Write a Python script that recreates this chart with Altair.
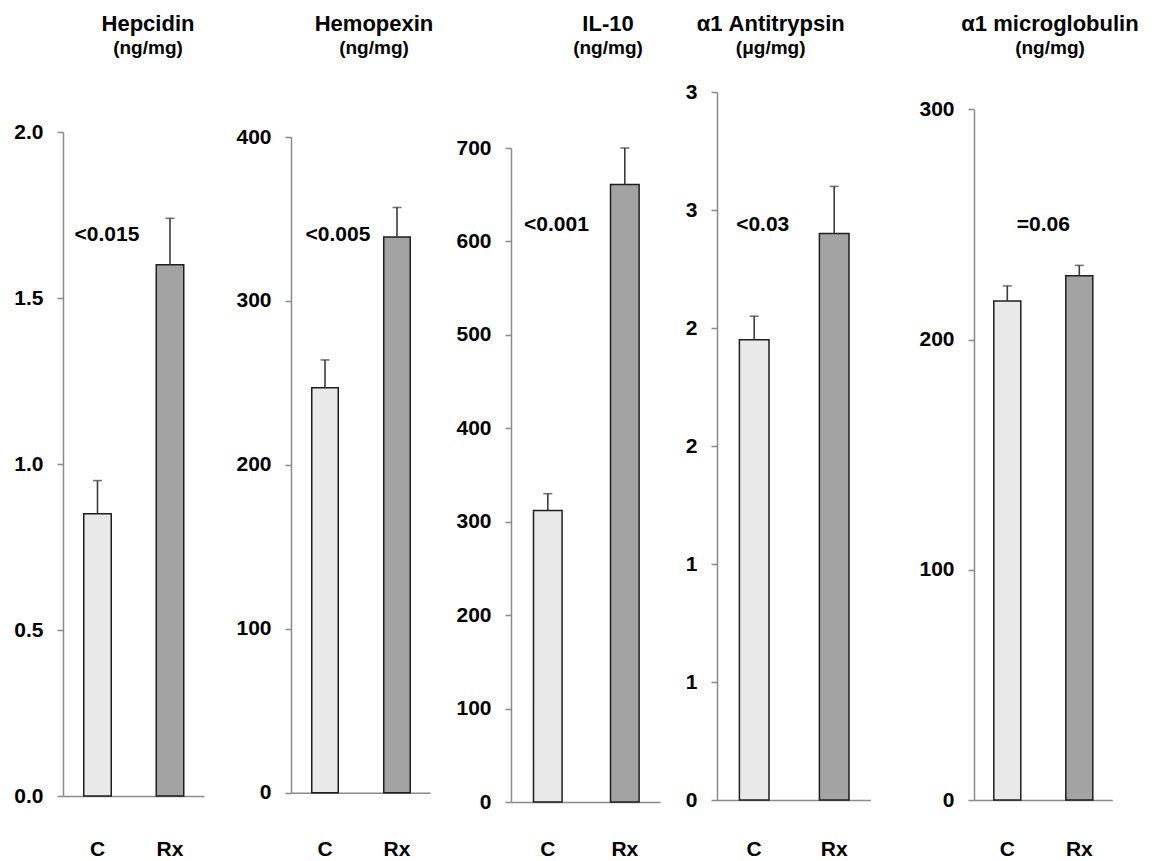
import altair as alt
import pandas as pd

# ---------------- data ----------------
categories = ["C", "Rx"]
titles = ["Hepcidin", "Hemopexin", "IL-10", "α1 Antitrypsin", "α1 microglobulin"]
units = ["(ng/mg)", "(ng/mg)", "(ng/mg)", "(μg/mg)", "(ng/mg)"]

hepcidin_mean = [0.85, 1.60]
hepcidin_se = [0.10, 0.14]
hemopexin_mean = [247, 339]
hemopexin_se = [17, 18]
il10_mean = [312, 661]
il10_se = [18, 39]
a1at_mean = [1.95, 2.40]
a1at_se = [0.10, 0.20]
a1mg_mean = [216.7, 227.7]
a1mg_se = [6.6, 4.5]

p_labels = ["<0.015", "<0.005", "<0.001", "<0.03", "=0.06"]

y_max = [2, 400, 700, 3, 300]
tick_values = [
    [0, 0.5, 1.0, 1.5, 2.0],
    [0, 100, 200, 300, 400],
    [0, 100, 200, 300, 400, 500, 600, 700],
    [0, 0.5, 1, 1.5, 2, 2.5, 3],
    [0, 100, 200, 300],
]
tick_formats = [".1f", "d", "d", ".0f", "d"]

means = [hepcidin_mean, hemopexin_mean, il10_mean, a1at_mean, a1mg_mean]
ses = [hepcidin_se, hemopexin_se, il10_se, a1at_se, a1mg_se]

# ---------------- layout (pixels in page) ----------------
PLOT_TOP = 70
axis_x = [66, 294, 514, 719.3, 976]
zero_y = [795, 791.7, 801, 799, 799]
max_y = [131, 136, 147, 91, 108.3]
baseline_w = [141, 139, 149, 153.4, 138.3]
centers = [(34.5, 107), (34, 106), (36.8, 113.8), (37.2, 117.2), (33.3, 105.3)]
band_w = [27.5, 26.5, 28.6, 29.6, 27]
title_cx = [151, 377, 611, 773, 1052]
ann_dx = [9.5, 13, 8.7, 8.5, 36]
ann_base_px = [240, 240, 230, 230, 230]
LABEL_TOP = 840

FONT = "Liberation Sans"
bar_colors = ["#e9e9e9", "#a3a3a3"]
AX_GRAY = "#8a8a8a"


def panel(i):
    df = pd.DataFrame({
        "group": categories,
        "mean": means[i],
        "upper": [m + e for m, e in zip(means[i], ses[i])],
    })
    h = zero_y[i] - PLOT_TOP
    y_range = [h, max_y[i] - PLOT_TOP]
    step = centers[i][1] - centers[i][0]
    bw = band_w[i]
    p_in = 1 - bw / step
    W = baseline_w[i]
    p_out = (W / step - 2 + p_in) / 2
    align = (centers[i][0] - bw / 2) / (W - step * (2 - p_in))
    width = (axis_x[i + 1] - axis_x[i]) if i < 4 else W + 20

    xscale = alt.Scale(domain=categories, range=[0, W], paddingInner=p_in,
                       paddingOuter=p_out, align=align)
    yscale = alt.Scale(domain=[0, y_max[i]], range=y_range, nice=False)

    x_axis = alt.Axis(title=None, labelAngle=0, ticks=False, domainColor=AX_GRAY,
                      domainWidth=1.5, labelFont=FONT, labelFontSize=21,
                      labelFontWeight="bold", labelColor="black",
                      labelPadding=LABEL_TOP - 3 - zero_y[i])
    y_axis = alt.Axis(title=None, values=tick_values[i], format=tick_formats[i],
                      grid=False, domainColor=AX_GRAY, domainWidth=1.5,
                      tickColor=AX_GRAY, tickWidth=1.5, tickSize=6,
                      labelFont=FONT, labelFontSize=21, labelFontWeight="bold",
                      labelColor="black", labelPadding=14)

    base = alt.Chart(df)
    bars = base.mark_bar(stroke="#1e1e1e", strokeWidth=1.5).encode(
        x=alt.X("group:N", scale=xscale, sort=categories, axis=x_axis),
        y=alt.Y("mean:Q", scale=yscale, axis=y_axis),
        fill=alt.Fill("group:N", scale=alt.Scale(domain=categories, range=bar_colors),
                      legend=None),
    )
    err = base.mark_rule(color="#3a3a3a", strokeWidth=1.6).encode(
        x=alt.X("group:N", title=None),
        y=alt.Y("mean:Q", title=None),
        y2="upper:Q",
    )
    cap = base.mark_tick(color="#3a3a3a", size=9, thickness=1.6).encode(
        x=alt.X("group:N", title=None),
        y=alt.Y("upper:Q", title=None),
    )
    ann_val = (zero_y[i] - ann_base_px[i]) / (zero_y[i] - max_y[i]) * y_max[i]
    ann_df = pd.DataFrame({"group": ["C"], "pos": [ann_val], "label": [p_labels[i]]})
    ann = alt.Chart(ann_df).mark_text(
        font=FONT, fontSize=21, fontWeight="bold", color="black",
        align="center", baseline="alphabetic", dx=ann_dx[i],
    ).encode(
        x=alt.X("group:N", title=None),
        y=alt.Y("pos:Q", title=None),
        text="label:N",
    )
    title = alt.TitleParams(
        text=titles[i], subtitle=units[i], anchor="middle", frame="group",
        font=FONT, fontSize=22, fontWeight="bold", color="black",
        subtitleFont=FONT, subtitleFontSize=19, subtitleFontWeight="bold",
        subtitleColor="black", subtitlePadding=3, offset=12,
        dx=title_cx[i] - (axis_x[i] + width / 2),
    )
    return alt.layer(bars, err, cap, ann).properties(width=width, height=h, title=title)


chart = alt.hconcat(*[panel(i) for i in range(5)], spacing=0, bounds="flush").properties(
    padding={"left": 5, "top": 5, "right": 5, "bottom": 5}
).configure_view(stroke=None)

chart.save("out.html", embed_options={"renderer": "svg", "actions": False})
